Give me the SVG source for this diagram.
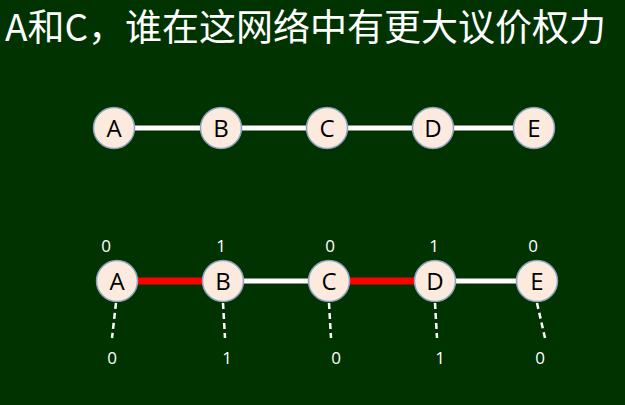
<svg xmlns="http://www.w3.org/2000/svg" width="625" height="405" viewBox="0 0 625 405">
<style>
.node circle{fill:#fdeadf;stroke:#8aa3c0;stroke-width:1.5}
.node text{font-family:"Open Sans","Noto Sans","Liberation Sans",sans-serif;font-size:24px;fill:#000;text-anchor:middle}
.num{font-family:"Open Sans","Noto Sans","Liberation Sans",sans-serif;font-size:17px;fill:#fff;text-anchor:middle}
.w{stroke:#fff;stroke-width:5}
.r{stroke:#ff0000;stroke-width:7}
.d{stroke:#fff;stroke-width:2.5;stroke-dasharray:6,4}
</style>
<rect width="625" height="405" fill="#003300"/>
<text x="5" y="41" font-family="Noto Sans CJK SC, sans-serif" font-size="37" fill="#fff">A和C，谁在这网络中有更大议价权力</text>
<g id="connectors">
<line class="w" x1="114" y1="128" x2="534" y2="128"/>
<line class="r" x1="117" y1="281" x2="223" y2="281"/>
<line class="w" x1="223" y1="281" x2="329" y2="281"/>
<line class="r" x1="329" y1="281" x2="435" y2="281"/>
<line class="w" x1="435" y1="281" x2="537" y2="281"/>
<line class="d" x1="116" y1="303" x2="112" y2="338"/>
<line class="d" x1="223" y1="303" x2="225" y2="338"/>
<line class="d" x1="329" y1="303" x2="331" y2="338"/>
<line class="d" x1="435" y1="303" x2="437" y2="338"/>
<line class="d" x1="537" y1="303" x2="545" y2="338"/>
</g>
<g id="nodeA1" class="node"><circle cx="114" cy="128" r="20.5"/><text x="114" y="137">A</text></g>
<g id="nodeB1" class="node"><circle cx="221" cy="128" r="20.5"/><text x="221" y="137">B</text></g>
<g id="nodeC1" class="node"><circle cx="327" cy="128" r="20.5"/><text x="327" y="137">C</text></g>
<g id="nodeD1" class="node"><circle cx="433" cy="128" r="20.5"/><text x="433" y="137">D</text></g>
<g id="nodeE1" class="node"><circle cx="534" cy="128" r="20.5"/><text x="534" y="137">E</text></g>
<g id="nodeA2" class="node"><circle cx="117" cy="281" r="20.5"/><text x="117" y="290">A</text></g>
<g id="nodeB2" class="node"><circle cx="223" cy="281" r="20.5"/><text x="223" y="290">B</text></g>
<g id="nodeC2" class="node"><circle cx="329" cy="281" r="20.5"/><text x="329" y="290">C</text></g>
<g id="nodeD2" class="node"><circle cx="435" cy="281" r="20.5"/><text x="435" y="290">D</text></g>
<g id="nodeE2" class="node"><circle cx="537" cy="281" r="20.5"/><text x="537" y="290">E</text></g>
<g id="labels">
<text class="num" x="106" y="252">0</text>
<text class="num" x="221" y="252">1</text>
<text class="num" x="330" y="252">0</text>
<text class="num" x="434" y="252">1</text>
<text class="num" x="533" y="252">0</text>
<text class="num" x="112" y="364">0</text>
<text class="num" x="227" y="364">1</text>
<text class="num" x="336" y="364">0</text>
<text class="num" x="440" y="364">1</text>
<text class="num" x="540" y="364">0</text>
</g>
</svg>
